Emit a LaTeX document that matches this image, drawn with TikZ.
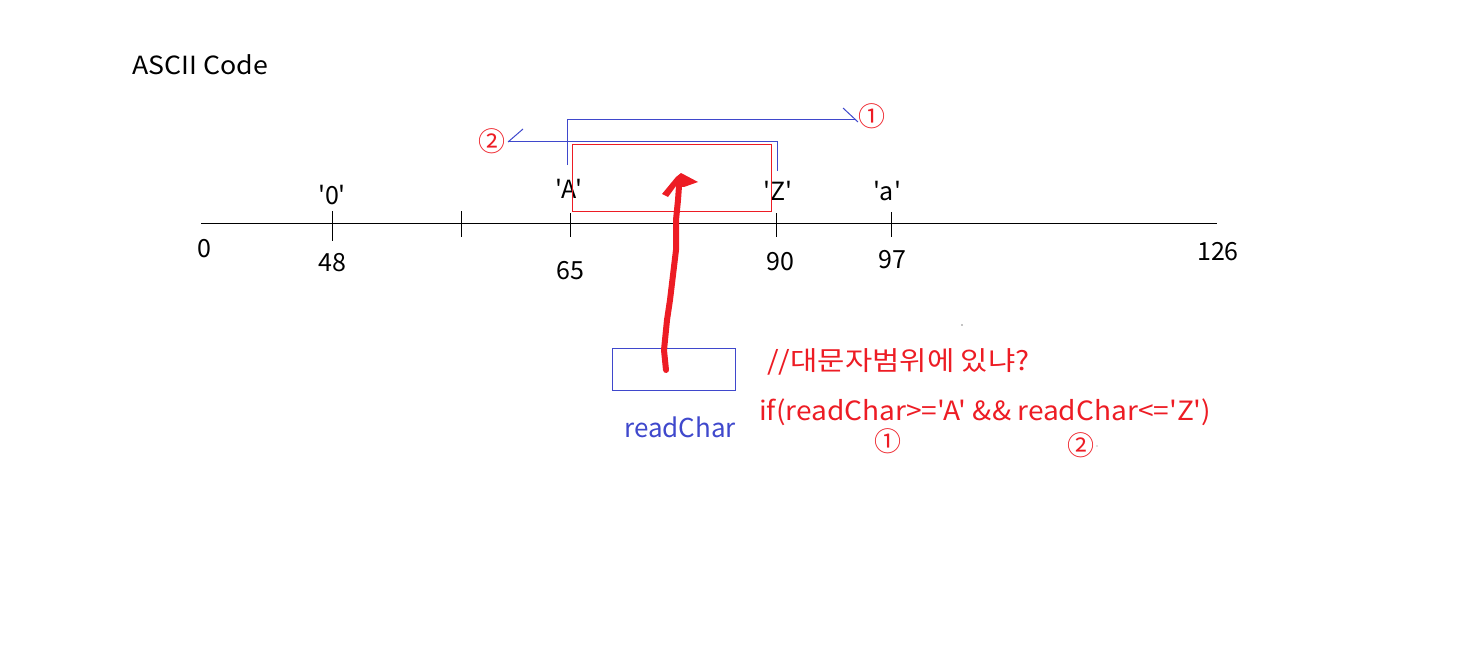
\documentclass[tikz,border=0pt]{standalone}
\usepackage{fontspec}
\newfontfamily\kr{Noto Sans CJK KR}
\definecolor{pred}{RGB}{237,28,36}
\definecolor{pblue}{RGB}{63,72,204}
\begin{document}
\begin{tikzpicture}[x=1pt,y=-1pt,
  lbl/.style={font=\kr\fontsize{25}{30}\selectfont, inner sep=0pt, text=black},
  rlbl/.style={font=\kr\fontsize{26.5}{30}\selectfont, inner sep=0pt, text=pred},
  circ/.style={font=\kr\fontsize{27}{30}\selectfont, inner sep=0pt, text=pred},
  tick/.style={draw=black, line width=1pt},
  bline/.style={draw=pblue, line width=1pt},
]
\useasboundingbox (0,0) rectangle (1466,648);
% title
\node[lbl, anchor=west] (title) at (132,65) {\scalebox{1.07}[1]{ASCII Code}};
% axis
\coordinate (a0) at (201,223);
\coordinate (a1) at (1217,223);
\draw[tick] (a0) -- (a1);
\draw[tick] (332,211) -- (332,241);
\draw[tick] (461,211) -- (461,237);
\draw[tick] (570,213) -- (570,237);
\draw[tick] (776,213) -- (776,237);
\draw[tick] (891,212) -- (891,237);
% numbers
\node[lbl] (n0) at (204,249) {0};
\node[lbl] (n48) at (332,263) {48};
\node[lbl] (n65) at (570,271) {65};
\node[lbl] (n90) at (780,262) {90};
\node[lbl] (n97) at (892,260) {97};
\node[lbl] (n126) at (1218,252) {126};
\node[lbl] (c0) at (332,195) {'0'};
\node[lbl] (cA) at (569,189) {'A'};
\node[lbl] (cZ) at (778,191) {'Z'};
\node[lbl] (ca) at (887,191) {'a'};
% red range box
\draw[pred, line width=1pt] (572,144) rectangle (771,211);
% blue brackets
\node[circ] (m1) at (872,116) {①};
\node[circ] (m2) at (492,141) {②};
\coordinate (b1s) at (567,165);
\coordinate (b1e) at (856,119);
\draw[bline] (b1s) |- (b1e);
\draw[bline] (843,108) -- (858,122);
\coordinate (b2s) at (777,171);
\coordinate (b2e) at (508,141);
\draw[bline] (b2s) |- (b2e);
\draw[bline] (508,142) -- (523,129);
% readChar box
\node[draw=pblue, line width=1pt, minimum width=123pt, minimum height=42pt, inner sep=0pt] (box) at (673.5,369) {};
\node[font=\kr\fontsize{26}{30}\selectfont, text=pblue, inner sep=0pt] (rc) at (680,427) {readChar};
% hand-drawn red arrow
\coordinate (hs) at (666,370);
\coordinate (he) at (679,186);
\draw[pred, line width=6pt, line cap=round, line join=round]
  (hs) -- (664,350) -- (667,320) -- (670,300) -- (673,275) -- (676,250) -- (676,220) -- (678,200) -- (he);
\fill[pred] (662,194) -- (676,177) -- (681,173) -- (698,182) -- (684,187) -- (676,186) -- (668,197) -- cycle;
% code text
\node[rlbl, anchor=west] (cm) at (767,362) {\scalebox{1.12}[1]{//대문자범위에 있냐?}};
\node[rlbl, anchor=west] (code) at (759,412) {\scalebox{1.06}[1]{if(readChar>='A' \&\& readChar<='Z')}};
\node[circ] (m1b) at (888,441) {①};
\node[circ] (m2b) at (1081,445) {②};
\fill[gray] (1097,446) circle (0.6pt);
\fill[black] (962,325) circle (0.7pt);
\end{tikzpicture}
\end{document}
